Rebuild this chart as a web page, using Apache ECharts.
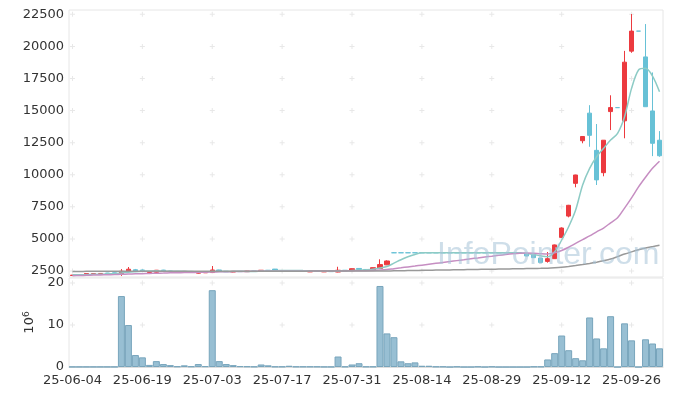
<!DOCTYPE html>
<html><head><meta charset="utf-8">
<script src="https://cdn.jsdelivr.net/npm/echarts@6/dist/echarts.min.js"></script>
<style>html,body{margin:0;padding:0;background:#fff}#c{width:673px;height:396px}</style>
</head><body><div id="c"></div>
<script>
const dates = ["25-06-04","25-06-05","25-06-09","25-06-10","25-06-11","25-06-12","25-06-13","25-06-16","25-06-17","25-06-18","25-06-19","25-06-20","25-06-23","25-06-24","25-06-25","25-06-26","25-06-27","25-06-30",
"25-07-01","25-07-02","25-07-03","25-07-04","25-07-07","25-07-08","25-07-09","25-07-10","25-07-11","25-07-14","25-07-15","25-07-16","25-07-17","25-07-18","25-07-21","25-07-22","25-07-23","25-07-24","25-07-25","25-07-28","25-07-29","25-07-30","25-07-31",
"25-08-01","25-08-04","25-08-05","25-08-06","25-08-07","25-08-08","25-08-11","25-08-12","25-08-13","25-08-14","25-08-18","25-08-19","25-08-20","25-08-21","25-08-22","25-08-25","25-08-26","25-08-27","25-08-28","25-08-29",
"25-09-01","25-09-02","25-09-03","25-09-04","25-09-05","25-09-08","25-09-09","25-09-10","25-09-11","25-09-12","25-09-15","25-09-16","25-09-17","25-09-18","25-09-19","25-09-22","25-09-23","25-09-24","25-09-25","25-09-26","25-09-29","25-09-30",
"25-10-01","25-10-02"];
const opens = [2150,2160,2270,2280,2290,2340,2360,2300,2480,2600,2580,2390,2400,2570,2500,2470,2430,2420,2330,2360,2380,2580,2480,2420,2470,2450,2500,2470,2560,2650,2520,2520,2510,2530,2430,2520,2430,2520,2420,2560,2530,2700,2620,2600,2700,2980,
3920,3920,3920,3920,3920,3920,3920,3920,3920,3920,3920,3920,3920,3920,3920,3920,3920,3920,3920,
3830,3750,3510,3250,3460,5120,6780,9330,12650,14800,11900,10160,14920,15230,14200,19630,21190,19180,14970,12690];
const closes = [2180,2180,2300,2300,2310,2310,2320,2480,2640,2500,2460,2420,2560,2480,2460,2440,2470,2440,2390,2400,2580,2480,2440,2470,2450,2500,2480,2560,2540,2560,2530,2530,2530,2500,2520,2470,2500,2450,2560,2530,2680,2620,2600,2760,3000,3280,
3920,3920,3920,3920,3920,3920,3920,3920,3920,3920,3920,3920,3920,3920,3920,3920,3920,3920,3920,
3670,3540,3170,3460,4530,5850,7620,9980,12980,13070,9600,12690,15230,15230,18770,21190,21190,15300,12450,11480];
const lows = [2140,2150,2250,2270,2270,2300,2300,2120,2450,2470,2430,2350,2330,2460,2440,2430,2420,2400,2300,2350,2360,2460,2420,2400,2440,2440,2470,2460,2530,2550,2490,2500,2500,2490,2420,2460,2420,2440,2400,2520,2520,2600,2590,2590,2680,2960,
3920,3920,3920,3920,3920,3920,3920,3920,3920,3920,3920,3920,3920,3920,3920,3920,3920,3920,3920,
3650,3530,3150,3150,3440,5100,6680,9020,12450,12180,9200,9880,13480,15230,12840,19500,21190,15300,11450,11400];
const highs = [2190,2190,2310,2320,2330,2350,2370,2650,2810,2660,2620,2440,2580,2590,2510,2480,2490,2460,2400,2410,2890,2600,2500,2490,2480,2510,2510,2570,2580,2660,2560,2560,2550,2540,2530,2530,2510,2530,2830,2570,2700,2710,2640,2780,3410,3330,
3980,3920,3920,3920,3920,3920,3920,3920,3920,3920,3920,3920,3920,3920,3920,3920,3920,3920,3920,
3850,3760,3520,3980,4560,5900,7650,10000,13000,15420,13950,12700,16190,15230,19650,22520,21190,21740,17970,13400];
const volumes = [0.05,0.05,0.05,0.05,0.05,0.05,0.05,16.9,10.0,2.85,2.3,0.5,1.4,0.7,0.45,0.15,0.4,0.15,0.7,0.2,18.3,1.4,0.7,0.45,0.2,0.15,0.1,0.6,0.4,0.1,0.1,0.3,0.1,0.1,0.1,0.1,0.05,0.05,2.5,0.1,0.6,0.9,0.1,0.1,19.3,8.0,7.1,1.35,0.9,1.1,0.3,0.3,0.1,0.1,0,0.1,0,0,0.1,0,0.1,0,0,0,0,0,0.1,0.1,1.8,3.3,7.5,4.0,2.1,1.6,11.8,6.8,4.45,12.1,0,10.4,6.35,0,6.6,5.6,4.45];
const ma5 = [2200,2200,2220,2240,2254,2280,2308,2344,2412,2450,2480,2500,2516,2484,2476,2472,2482,2458,2440,2428,2456,2458,2458,2474,2484,2468,2468,2492,2506,2528,2534,2544,2538,2530,2522,2510,2504,2488,2500,2502,2544,2568,2598,2638,2732,2852,3112,3376,3608,3792,
3920,3920,3920,3920,3920,3920,3920,3920,3920,3920,3920,3920,3920,3920,3920,
3870,3794,3680,3610,4000,4915,5950,7250,9200,10500,11400,12060,12700,13230,14520,16730,18160,18290,17690,16470];
const ma20 = [2140,2150,2165,2180,2195,2210,2225,2245,2265,2280,2295,2310,2325,2340,2355,2365,2375,2385,2395,2402,2422,2437,2444,2453,2460,2469,2477,2481,2476,2479,2483,2488,2487,2488,2491,2492,2494,2494,2503,2509,2514,2521,2529,2544,2571,2610,2682,2750,2819,2887,2957,3026,3096,3167,3237,3309,3380,3454,3522,3591,3653,3718,3784,3842,3888,3908,3889,3851,3828,3930,4100,4350,4650,4950,5230,5550,5850,6250,6650,7400,8200,9050,9800,10500,11050];
const ma120 = [2470,2470,2472,2472,2473,2474,2475,2475,2476,2477,2478,2478,2479,2480,2480,2481,2481,2482,2482,2483,2484,2485,2485,2486,2486,2487,2487,2488,2488,2489,2489,2490,2490,2490,2491,2491,2492,2492,2493,2493,2494,2495,2496,2497,2499,2502,
2512,2522,2532,2542,2551,2560,2569,2578,2587,2596,2605,2614,2623,2632,2641,2650,2659,2668,2677,
2690,2700,2705,2720,2750,2790,2850,2920,3000,3090,3190,3300,3430,3620,3820,3990,4150,4290,4400,4500];
const priceTicks = [2500,5000,7500,10000,12500,15000,17500,20000,22500];
const volumeTicks = [0,10,20];
const labelEvery = 10;

const RED = '#ec3a3f', CYAN = '#67c1d6';
const FONT = 'DejaVu Sans';

const candleData = dates.map((d, i) => {
  const v = [opens[i], closes[i], lows[i], highs[i]];
  if (opens[i] === closes[i]) {
    return { value: v, itemStyle: { color: CYAN, color0: CYAN, borderColor: CYAN, borderColor0: CYAN, borderColorDoji: CYAN } };
  }
  return v;
});

const labelIdx = dates.map((d, i) => i).filter(i => i % labelEvery === 0);
const crossPrice = [], crossVol = [];
labelIdx.forEach(i => {
  priceTicks.forEach(t => crossPrice.push([i, t]));
  volumeTicks.filter(t => t > 0).forEach(t => crossVol.push([i, t]));
});
const plusPath = 'path://M4,0H6V10H4Z M0,4H10V6H0Z';

const chart = echarts.init(document.getElementById('c'), null, { renderer: 'canvas' });
chart.setOption({
  animation: false,
  backgroundColor: '#fff',
  textStyle: { fontFamily: FONT },
  grid: [
    { left: 69, right: 10, top: 10, height: 267, show: true, borderColor: '#e6e6e6', borderWidth: 1 },
    { left: 69, right: 10, top: 278, height: 89, show: true, borderColor: '#e6e6e6', borderWidth: 1 }
  ],
  xAxis: [
    { type: 'category', gridIndex: 0, data: dates, boundaryGap: true,
      axisLine: { show: false }, axisTick: { show: false }, axisLabel: { show: false }, splitLine: { show: false } },
    { type: 'category', gridIndex: 1, data: dates, boundaryGap: true,
      axisLine: { show: true, lineStyle: { color: '#ddd' } }, axisTick: { show: false },
      axisLabel: { interval: labelEvery - 1, color: '#333', fontSize: 13, fontFamily: FONT, margin: 7 },
      splitLine: { show: false } }
  ],
  yAxis: [
    { type: 'value', gridIndex: 0, min: 2033, max: 22835, scale: true,
      axisLine: { show: false }, axisTick: { show: false, customValues: priceTicks },
      axisLabel: { customValues: priceTicks, formatter: v => String(v), color: '#333', fontSize: 13, fontFamily: FONT, margin: 5 },
      splitLine: { show: false } },
    { type: 'value', gridIndex: 1, min: 0, max: 21.2, interval: 10,
      name: '{a|10}{b|6}', nameLocation: 'middle', nameRotate: 90, nameGap: 25,
      nameTextStyle: { rich: { a: { fontSize: 13, color: '#333', fontFamily: FONT }, b: { fontSize: 9, color: '#333', fontFamily: FONT, verticalAlign: 'top', padding: [0,0,6,0] } } },
      axisLine: { show: false }, axisTick: { show: false },
      axisLabel: { formatter: v => String(v), color: '#333', fontSize: 13, fontFamily: FONT, margin: 5, showMaxLabel: false },
      splitLine: { show: false } }
  ],
  graphic: [{
    type: 'text', left: 437, top: 239, z: 100, silent: true,
    style: { text: 'InfoPointer.com', font: '32px "Liberation Sans"', fill: 'rgba(165,195,215,0.55)' }
  }],
  series: [
    { type: 'scatter', xAxisIndex: 0, yAxisIndex: 0, data: crossPrice, symbol: plusPath, symbolSize: 5,
      itemStyle: { color: '#e2e2e2' }, silent: true, z: 0 },
    { type: 'scatter', xAxisIndex: 1, yAxisIndex: 1, data: crossVol, symbol: plusPath, symbolSize: 5,
      itemStyle: { color: '#e2e2e2' }, silent: true, z: 0 },
    { type: 'candlestick', xAxisIndex: 0, yAxisIndex: 0, data: candleData, barWidth: 5,
      itemStyle: { color: RED, color0: CYAN, borderColor: RED, borderColor0: CYAN, borderWidth: 1 } },
    { type: 'line', xAxisIndex: 0, yAxisIndex: 0, data: ma5, symbol: 'none', smooth: 0.3,
      lineStyle: { color: '#8dcbc5', width: 1.5 }, z: 3 },
    { type: 'line', xAxisIndex: 0, yAxisIndex: 0, data: ma20, symbol: 'none', smooth: 0.3,
      lineStyle: { color: '#c68ec2', width: 1.5 }, z: 3 },
    { type: 'line', xAxisIndex: 0, yAxisIndex: 0, data: ma120, symbol: 'none', smooth: 0.3,
      lineStyle: { color: '#999999', width: 1.5 }, z: 3 },
    { type: 'bar', xAxisIndex: 1, yAxisIndex: 1, data: volumes, barCategoryGap: '0%',
      itemStyle: { color: '#98bfd3', borderColor: '#78a5bc', borderWidth: 1 } }
  ]
});
</script>
</body></html>
